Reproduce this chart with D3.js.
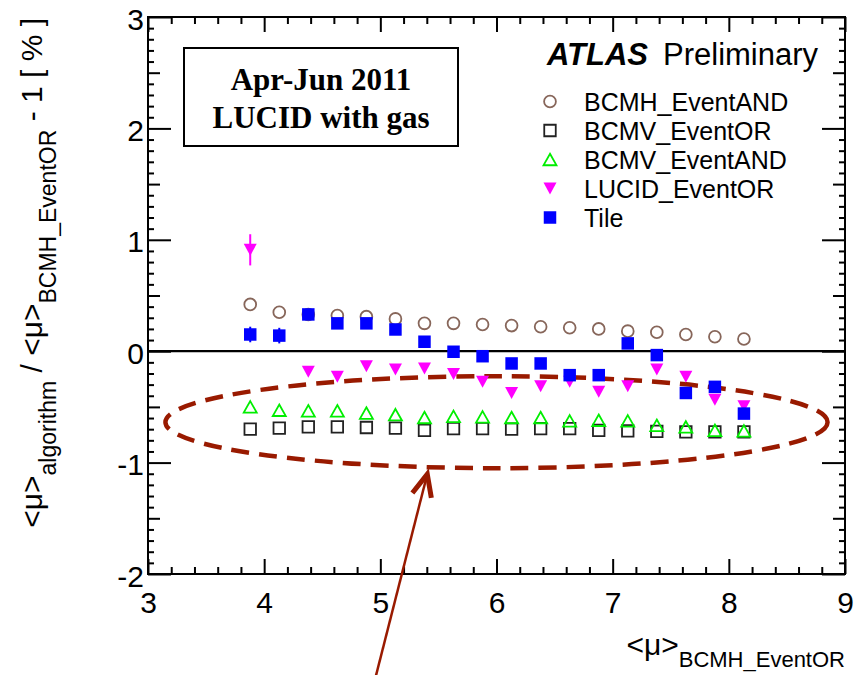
<!DOCTYPE html>
<html>
<head>
<meta charset="utf-8">
<script src="https://cdn.jsdelivr.net/npm/d3@7"></script>
<style>
  html, body { margin: 0; padding: 0; background: #fff; }
  svg { display: block; }
  text { white-space: pre; }
</style>
</head>
<body>
<svg id="chart" width="860" height="675"></svg>
<script>
// <mu> bins of the reference algorithm (BCMH_EventOR)
const muBins = [3.88, 4.13, 4.38, 4.63, 4.88, 5.13, 5.38, 5.63, 5.88,
                6.13, 6.38, 6.63, 6.88, 7.13, 7.38, 7.63, 7.88, 8.13];

// relative deviation from BCMH_EventOR, in percent
const bcmhEventAND = [0.42, 0.35, 0.33, 0.32, 0.31, 0.29, 0.25, 0.25, 0.24,
                      0.23, 0.22, 0.21, 0.20, 0.18, 0.17, 0.15, 0.13, 0.11];
const bcmvEventOR  = [-0.70, -0.69, -0.68, -0.68, -0.685, -0.69, -0.71, -0.695, -0.695,
                      -0.70, -0.695, -0.695, -0.71, -0.715, -0.72, -0.725, -0.725, -0.725];
const bcmvEventAND = [-0.50, -0.53, -0.535, -0.535, -0.555, -0.57, -0.595, -0.585, -0.59,
                      -0.595, -0.595, -0.625, -0.62, -0.625, -0.665, -0.68, -0.71, -0.715];
const lucidEventOR = [0.91, null, -0.185, -0.23, -0.135, -0.165, -0.155, -0.205, -0.275,
                      -0.375, -0.315, -0.275, -0.365, -0.315, -0.165, -0.23, -0.435, -0.495];
const lucidErr     = [0.14, 0, 0, 0, 0, 0, 0, 0, 0, 0, 0, 0, 0, 0, 0, 0, 0, 0];
const tileValues   = [0.15, 0.14, 0.33, 0.25, 0.25, 0.195, 0.085, -0.005, -0.045,
                      -0.11, -0.11, -0.215, -0.215, 0.07, -0.035, -0.375, -0.32, -0.56];
const tileErr      = [0.07, 0.07, 0, 0, 0, 0, 0, 0, 0, 0, 0, 0, 0, 0, 0, 0, 0, 0];

const seriesNames = ["BCMH_EventAND", "BCMV_EventOR", "BCMV_EventAND", "LUCID_EventOR", "Tile"];

// axis ticks
const xTicks = [3, 4, 5, 6, 7, 8, 9];
const xTickLabels = ["3", "4", "5", "6", "7", "8", "9"];
const yTicks = [-2, -1, 0, 1, 2, 3];
const yTickLabels = ["-2", "-1", "0", "1", "2", "3"];

// highlighted region (centre and half-axes in data units) and pointer arrow
const ellipseCentre = [6.0, -0.637];
const ellipseRadii = [2.85, 0.413];
const arrowFrom = [4.963, -2.91];
const arrowTo = [5.404, -1.104];

// ---------------------------------------------------------------
const W = 860, H = 675;
const frame = { left: 148, right: 845, top: 17, bottom: 574 };
const sans = '"Liberation Sans", Arial, Helvetica, sans-serif';
const serif = '"Liberation Serif", "Times New Roman", Times, serif';
const darkRed = "#991a00";

const x = d3.scaleLinear().domain([3, 9]).range([frame.left, frame.right]);
const y = d3.scaleLinear().domain([-2, 3]).range([frame.bottom, frame.top]);

const svg = d3.select("#chart");
svg.append("rect").attr("width", W).attr("height", H).attr("fill", "#fff");

// minor tick positions
const xMinor = d3.range(15, 46).map(i => i / 5).filter(v => Math.abs(v - Math.round(v)) > 1e-6);
const yHalf = d3.range(-2, 3).map(v => v + 0.5);
const yMinor = d3.range(-20, 31).map(i => i / 10).filter(v => Math.abs(v * 2 - Math.round(v * 2)) > 1e-6);

function drawAxis(gen, tx, ty) {
  const g = svg.append("g").attr("transform", `translate(${tx},${ty})`).call(gen);
  g.select(".domain").remove();
  g.selectAll("line").attr("stroke", "#000").attr("stroke-width", 2);
  g.selectAll("text").attr("font-family", sans).attr("font-size", 30).attr("fill", "#000");
  return g;
}

// bottom and top
drawAxis(d3.axisBottom(x).tickValues(xTicks).tickSize(-15).tickPadding(18)
  .tickFormat((d, i) => xTickLabels[i]), 0, frame.bottom);
drawAxis(d3.axisBottom(x).tickValues(xMinor).tickSize(-7).tickFormat(""), 0, frame.bottom);
drawAxis(d3.axisTop(x).tickValues(xTicks).tickSize(-15).tickFormat(""), 0, frame.top);
drawAxis(d3.axisTop(x).tickValues(xMinor).tickSize(-7).tickFormat(""), 0, frame.top);

// left and right
const yLeft = drawAxis(d3.axisLeft(y).tickValues(yTicks).tickSize(-23).tickPadding(4)
  .tickFormat((d, i) => yTickLabels[i]), frame.left, 0);
yLeft.selectAll("text").attr("dy", "0.4em");
drawAxis(d3.axisLeft(y).tickValues(yHalf).tickSize(-12).tickFormat(""), frame.left, 0);
drawAxis(d3.axisLeft(y).tickValues(yMinor).tickSize(-6).tickFormat(""), frame.left, 0);
drawAxis(d3.axisRight(y).tickValues(yTicks).tickSize(-23).tickFormat(""), frame.right, 0);
drawAxis(d3.axisRight(y).tickValues(yHalf).tickSize(-12).tickFormat(""), frame.right, 0);
drawAxis(d3.axisRight(y).tickValues(yMinor).tickSize(-6).tickFormat(""), frame.right, 0);

// frame
svg.append("rect")
  .attr("x", frame.left).attr("y", frame.top)
  .attr("width", frame.right - frame.left).attr("height", frame.bottom - frame.top)
  .attr("fill", "none").attr("stroke", "#000").attr("stroke-width", 2);

// reference line at zero
svg.append("line")
  .attr("x1", x(3)).attr("x2", x(9)).attr("y1", y(0)).attr("y2", y(0))
  .attr("stroke", "#000").attr("stroke-width", 2.2);

// highlighted band (dashed ellipse)
svg.append("ellipse")
  .attr("cx", x(ellipseCentre[0])).attr("cy", y(ellipseCentre[1]))
  .attr("rx", x(ellipseCentre[0] + ellipseRadii[0]) - x(ellipseCentre[0]))
  .attr("ry", y(ellipseCentre[1] - ellipseRadii[1]) - y(ellipseCentre[1]))
  .attr("fill", "none").attr("stroke", darkRed).attr("stroke-width", 4.5)
  .attr("stroke-dasharray", "18 10");

// marker shapes, centred on their bounding box
const shapes = {
  circle: r => `M${r},0A${r},${r} 0 1,1 ${-r},0A${r},${r} 0 1,1 ${r},0Z`,
  square: s => `M${-s / 2},${-s / 2}h${s}v${s}h${-s}Z`,
  triUp: (w, h) => `M0,${-h / 2}L${w / 2},${h / 2}L${-w / 2},${h / 2}Z`,
  triDown: (w, h) => `M0,${h / 2}L${w / 2},${-h / 2}L${-w / 2},${-h / 2}Z`
};

const series = [
  { name: seriesNames[0], values: bcmhEventAND, path: shapes.circle(5.9), fill: "none", stroke: "#87665a", sw: 1.8 },
  { name: seriesNames[1], values: bcmvEventOR, path: shapes.square(11.5), fill: "none", stroke: "#222", sw: 1.8 },
  { name: seriesNames[2], values: bcmvEventAND, path: shapes.triUp(13, 11.5), fill: "none", stroke: "#00ee00", sw: 1.8 },
  { name: seriesNames[3], values: lucidEventOR, err: lucidErr, path: shapes.triDown(13, 12), fill: "#ff00ff", stroke: "none", sw: 0 },
  { name: seriesNames[4], values: tileValues, err: tileErr, path: shapes.square(12.5), fill: "#0000ff", stroke: "none", sw: 0 }
];
const errColour = { LUCID_EventOR: "#ff00ff", Tile: "#0000ff" };

series.forEach(s => {
  const pts = muBins.map((m, i) => ({ m, v: s.values[i], e: s.err ? s.err[i] : 0 }))
    .filter(p => p.v !== null);
  const g = svg.append("g");
  g.selectAll("line.err").data(pts.filter(p => p.e > 0)).join("line")
    .attr("class", "err")
    .attr("x1", p => x(p.m)).attr("x2", p => x(p.m))
    .attr("y1", p => y(p.v + p.e)).attr("y2", p => y(p.v - p.e))
    .attr("stroke", errColour[s.name]).attr("stroke-width", 2);
  g.selectAll("path").data(pts).join("path")
    .attr("transform", p => `translate(${x(p.m)},${y(p.v)})`)
    .attr("d", s.path)
    .attr("fill", s.fill).attr("stroke", s.stroke).attr("stroke-width", s.sw);
});

// pointer arrow
(function () {
  const x1 = x(arrowFrom[0]), y1 = y(arrowFrom[1]);
  const x2 = x(arrowTo[0]), y2 = y(arrowTo[1]);
  const ang = Math.atan2(y1 - y2, x1 - x2);
  const len = 24, spread = 0.42;
  svg.append("line").attr("x1", x1).attr("y1", y1).attr("x2", x2).attr("y2", y2)
    .attr("stroke", darkRed).attr("stroke-width", 2.5);
  const hx1 = x2 + len * Math.cos(ang - spread), hy1 = y2 + len * Math.sin(ang - spread);
  const hx2 = x2 + len * Math.cos(ang + spread), hy2 = y2 + len * Math.sin(ang + spread);
  svg.append("path").attr("d", `M${hx1},${hy1}L${x2},${y2}L${hx2},${hy2}`)
    .attr("fill", "none").attr("stroke", darkRed).attr("stroke-width", 5)
    .attr("stroke-linejoin", "miter").attr("stroke-linecap", "butt");
})();

// period box
svg.append("rect").attr("x", 184).attr("y", 48).attr("width", 274).attr("height", 98)
  .attr("fill", "#fff").attr("stroke", "#000").attr("stroke-width", 2);
const boxText = svg.append("text").attr("font-family", serif).attr("font-weight", "bold")
  .attr("font-size", 31).attr("text-anchor", "middle").attr("fill", "#000");
boxText.append("tspan").attr("x", 321).attr("y", 90).text("Apr-Jun 2011");
boxText.append("tspan").attr("x", 321).attr("y", 128).text("LUCID with gas");

// header
svg.append("text").attr("x", 547).attr("y", 65).attr("font-family", sans)
  .attr("font-size", 31).attr("font-weight", "bold").attr("font-style", "italic")
  .text("ATLAS");
svg.append("text").attr("x", 663).attr("y", 65).attr("font-family", sans)
  .attr("font-size", 31).text("Preliminary");

// legend
const legend = svg.append("g");
series.forEach((s, i) => {
  const cy = 101.5 + i * 29;
  legend.append("path").attr("transform", `translate(550,${cy})`).attr("d", s.path)
    .attr("fill", s.fill).attr("stroke", s.stroke).attr("stroke-width", s.sw);
  legend.append("text").attr("x", 584).attr("y", cy + 9).attr("font-family", sans)
    .attr("font-size", 25).text(s.name);
});

// x axis title
const xTitle = svg.append("text").attr("x", frame.right).attr("y", 655)
  .attr("text-anchor", "end").attr("font-family", sans).attr("font-size", 30);
xTitle.append("tspan").text("<μ>");
xTitle.append("tspan").attr("font-size", 22).attr("dy", 12).text("BCMH_EventOR");

// y axis title
const yTitle = svg.append("text").attr("transform", "translate(42,18) rotate(-90)")
  .attr("text-anchor", "end").attr("font-family", sans).attr("font-size", 30);
yTitle.append("tspan").text("<μ>");
yTitle.append("tspan").attr("font-size", 23).attr("dy", 14).text("algorithm");
yTitle.append("tspan").attr("dy", -14).text(" / <μ>");
yTitle.append("tspan").attr("font-size", 23).attr("dy", 14).text("BCMH_EventOR");
yTitle.append("tspan").attr("dy", -14).text(" - 1 [ % ]");
</script>
</body>
</html>
